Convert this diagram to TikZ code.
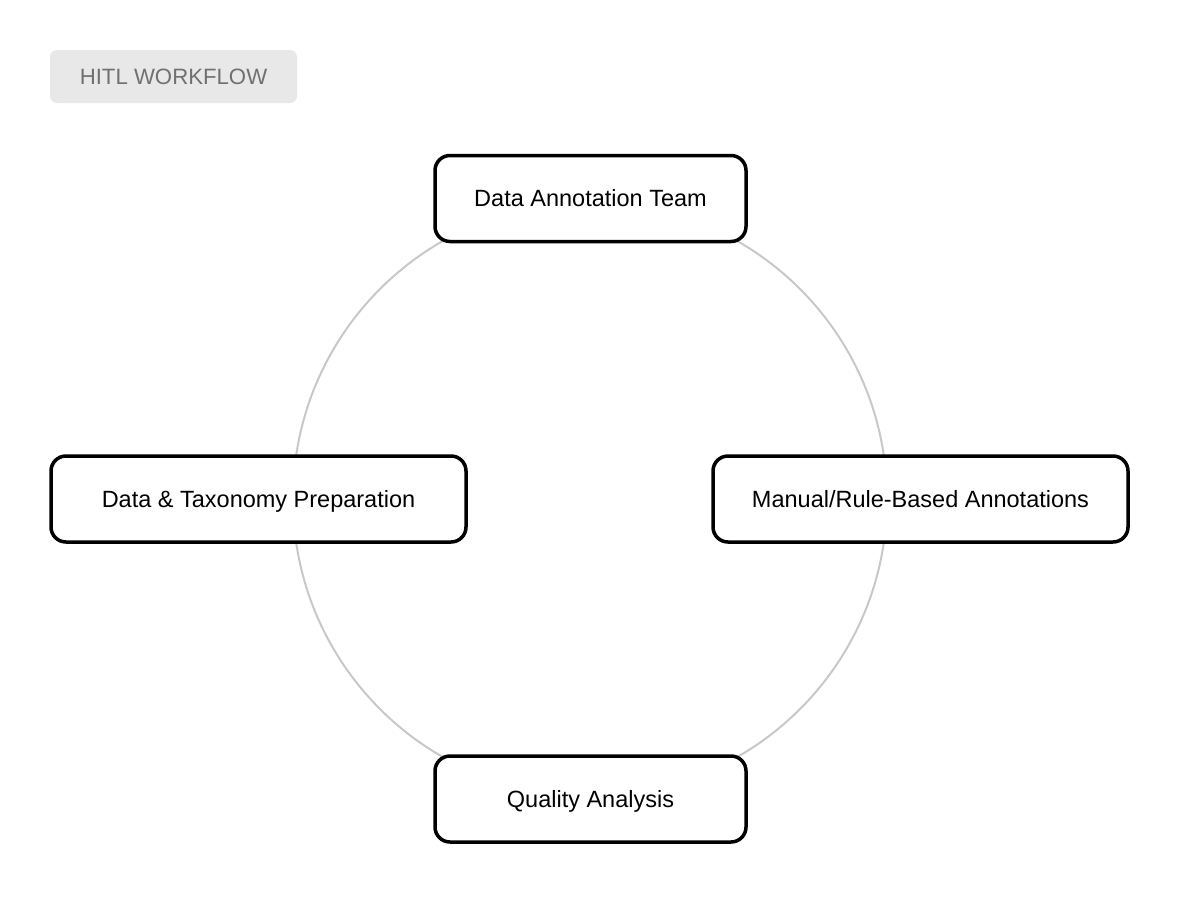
\documentclass[tikz,border=0pt]{standalone}
\usepackage{fontspec}
\setmainfont{Liberation Sans}
\usepackage{tikz}
\usetikzlibrary{positioning}
\definecolor{ringgray}{HTML}{C8C8C8}
\definecolor{tagfill}{HTML}{E8E8E8}
\definecolor{taggray}{HTML}{707070}

\begin{document}
\begin{tikzpicture}[x=1pt,y=-1pt]
\tikzstyle{stage}=[draw,line width=3.5pt,rounded corners=15pt,fill=white,minimum height=86pt,inner sep=0pt,text height=16.8pt,text depth=0pt,font=\fontsize{23.5}{28}\selectfont]
\tikzstyle{tag}=[fill=tagfill,rounded corners=7pt,text=taggray,minimum width=247pt,minimum height=53pt,inner sep=0pt,text height=15.9pt,text depth=0pt,font=\fontsize{22.2}{26}\selectfont]
\useasboundingbox (0,0) rectangle (1180,900);
\coordinate (c) at (590,499);
\draw [ringgray,line width=2pt] (c) circle (297);
\node [tag] (title) at (173.5,76.5) {HITL WORKFLOW};
\node [stage,minimum width=311pt] (team) at (590.5,198.5) {Data Annotation Team};
\node [stage,minimum width=415pt] (prep) at (258.5,499) {Data \& Taxonomy Preparation};
\node [stage,minimum width=415pt] (manual) at (920.5,499) {Manual/Rule-Based Annotations};
\node [stage,minimum width=311pt] (quality) at (590.5,799) {Quality Analysis};
\end{tikzpicture}
\end{document}
